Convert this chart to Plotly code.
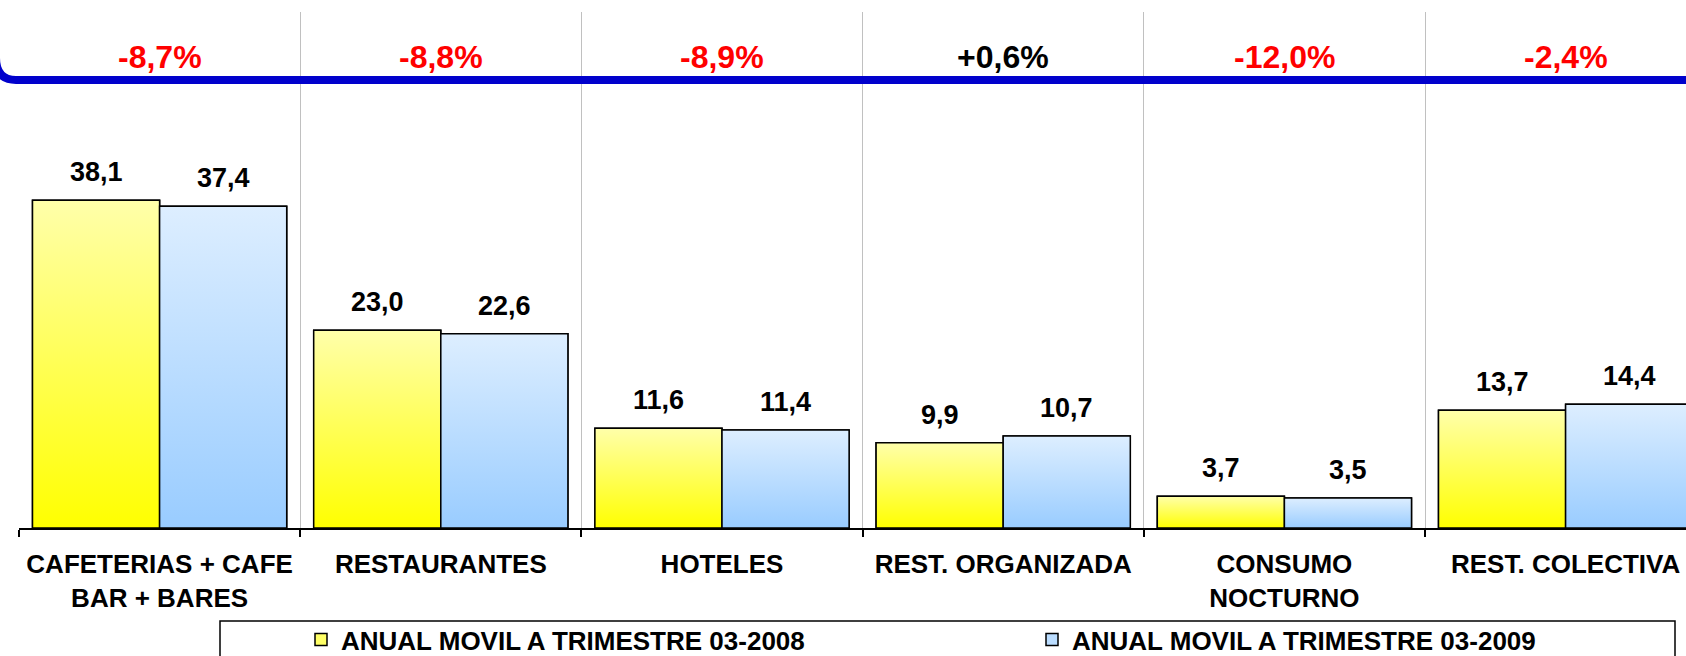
import plotly.graph_objects as go

# ---------------- data ----------------
categories = [
    "CAFETERIAS + CAFE<br>BAR + BARES",
    "RESTAURANTES",
    "HOTELES",
    "REST. ORGANIZADA",
    "CONSUMO<br>NOCTURNO",
    "REST. COLECTIVA",
]
series_names = [
    "ANUAL MOVIL A TRIMESTRE 03-2008",
    "ANUAL MOVIL A TRIMESTRE 03-2009",
]
values_2008 = [38.1, 23.0, 11.6, 9.9, 3.7, 13.7]
values_2009 = [37.4, 22.6, 11.4, 10.7, 3.5, 14.4]
pct_change = ["-8,7%", "-8,8%", "-8,9%", "+0,6%", "-12,0%", "-2,4%"]

# ---------------- layout constants ----------------
FONT = "Arial, 'Liberation Sans', sans-serif"
W, H = 1686, 656
ML, MR, MT, MB = 19, 0, 12, 128
PW, PH = W - ML - MR, H - MT - MB
CAT_PX = 281.2
X_MIN = -0.5
X_MAX = X_MIN + PW / CAT_PX
Y_MAX = 60
BARGAP = 0.096
BW = (1 - BARGAP) / 2

styles = [
    dict(top="#FFFFAA", bottom="#FFFF00", mid="#FFFF66"),
    dict(top="#DDEEFF", bottom="#99CCFF", mid="#BBDDFF"),
]
legend_ids = ["legend", "legend2"]
legend_left_px = [301, 1032]


def px_x(p):
    return (p - ML) / PW


def px_y(p):
    return (H - MB - p) / PH


def fmt(v):
    return f"{v:.1f}".replace(".", ",")


fig = go.Figure()
xs = list(range(len(categories)))
all_series = [values_2008, values_2009]

# real bars (data + legend)
for s, (name, vals) in enumerate(zip(series_names, all_series)):
    fig.add_trace(go.Bar(
        x=xs, y=vals, name=name, legend=legend_ids[s],
        marker=dict(color=styles[s]["mid"], line=dict(color="black", width=1.5)),
        hovertext=[fmt(v) for v in vals], hoverinfo="text+name",
    ))

# gradient overlays on the same bars
for s, vals in enumerate(all_series):
    for i, v in enumerate(vals):
        x0 = i - BW + s * BW
        x1 = x0 + BW
        fig.add_trace(go.Scatter(
            x=[x0, x0, x1, x1, x0], y=[0, v, v, 0, 0],
            mode="lines", fill="toself",
            fillgradient=dict(type="vertical", start=0, stop=v,
                              colorscale=[[0, styles[s]["bottom"]], [1, styles[s]["top"]]]),
            line=dict(color="black", width=1.5),
            showlegend=False, hoverinfo="skip",
        ))

# value labels
for s, vals in enumerate(all_series):
    for i, v in enumerate(vals):
        fig.add_annotation(
            x=i - BW / 2 + s * BW, y=v, xref="x", yref="y",
            text=fmt(v), showarrow=False, yanchor="middle", yshift=28,
            font=dict(family=FONT, size=27, color="black", weight="bold"),
        )

# percentage change labels
for i, p in enumerate(pct_change):
    fig.add_annotation(
        x=i, y=px_y(57), xref="x", yref="paper",
        text=p, showarrow=False, yanchor="middle",
        font=dict(family=FONT, size=32, weight="bold",
                  color="black" if p.startswith("+") else "#FF0000"),
    )

# blue rounded separator line
path = (f"M {px_x(-4)},{px_y(58)} Q {px_x(-4)},{px_y(80)} {px_x(16)},{px_y(80)} "
        f"L {px_x(1700)},{px_y(80)}")
fig.add_shape(type="path", path=path, xref="paper", yref="paper",
              line=dict(color="#0000CC", width=8))

# legend frame
fig.add_shape(type="rect", xref="paper", yref="paper",
              x0=px_x(220), x1=px_x(1675), y0=px_y(621), y1=px_y(680),
              line=dict(color="black", width=1.5), fillcolor="rgba(0,0,0,0)")

legend_style = dict(
    orientation="h", xanchor="left", y=px_y(616), yanchor="top",
    font=dict(family=FONT, size=26, color="black", weight="bold"),
    bgcolor="rgba(0,0,0,0)", borderwidth=0,
)

fig.update_layout(
    width=W, height=H,
    margin=dict(l=ML, r=MR, t=MT, b=MB, autoexpand=False),
    paper_bgcolor="white", plot_bgcolor="white",
    barmode="group", bargap=BARGAP, bargroupgap=0,
    showlegend=True,
    legend=dict(x=px_x(legend_left_px[0]), **legend_style),
    legend2=dict(x=px_x(legend_left_px[1]), **legend_style),
    xaxis=dict(
        range=[X_MIN, X_MAX], tickmode="array", tickvals=xs, ticktext=categories,
        ticks="", showgrid=False, zeroline=False, ticklabelstandoff=12,
        showline=True, linecolor="black", linewidth=2,
        tickfont=dict(family=FONT, size=26, color="black", weight="bold"),
        minor=dict(tickmode="array", tickvals=[i - 0.5 for i in range(len(categories) + 1)],
                   ticks="outside", ticklen=7, tickcolor="black", tickwidth=1.5,
                   showgrid=True, gridcolor="#C0C0C0", gridwidth=1),
    ),
    yaxis=dict(range=[0, Y_MAX], visible=False),
)

fig.write_html(
    "out.html",
    config={"displayModeBar": False},
    post_script="document.body.style.margin='0';document.body.style.overflow='hidden';",
)
